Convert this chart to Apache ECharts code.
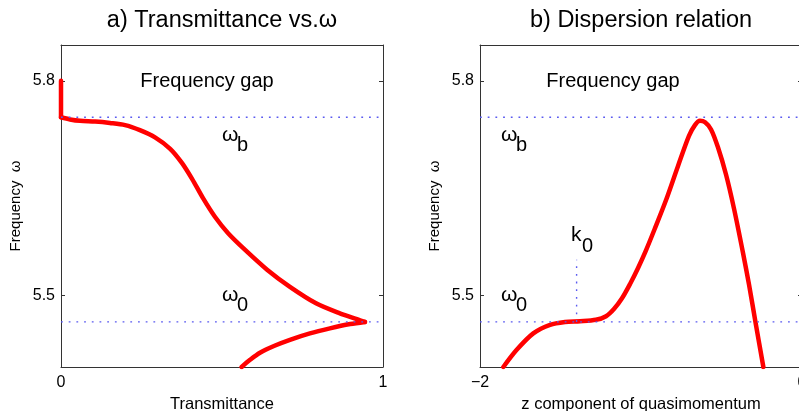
<!DOCTYPE html>
<html><head><meta charset="utf-8">
<script src="https://cdn.jsdelivr.net/npm/echarts@6/dist/echarts.min.js"></script>
<style>html,body{margin:0;padding:0;background:#fff}#c{width:799px;height:411px}</style>
</head><body><div id="c"></div>
<script>
// ---- data ----
const omegaB = 5.749;       // upper band edge
const omega0 = 5.463;       // flat-band frequency
const k0 = -1.40;           // quasimomentum of flat band
const k0MarkTop = 5.55;
const freqTicks = [5.5, 5.8];

// a) transmittance, upper branch (starts with the vertical edge at T = 0)
const transUpperT = [0, 0, 0.028, 0.059, 0.106, 0.152, 0.199, 0.245, 0.292, 0.339, 0.376, 0.407, 0.441, 0.478, 0.519, 0.571, 0.640, 0.711, 0.792, 0.866, 0.919, 0.944];
const transUpperW = [5.8, 5.749, 5.746, 5.744, 5.743, 5.741, 5.738, 5.731, 5.721, 5.705, 5.685, 5.663, 5.636, 5.610, 5.587, 5.564, 5.536, 5.512, 5.489, 5.475, 5.467, 5.463];
// a) transmittance, lower branch
const transLowerT = [0.944, 0.898, 0.835, 0.773, 0.711, 0.665, 0.618, 0.587, 0.561];
const transLowerW = [5.463, 5.460, 5.454, 5.447, 5.438, 5.430, 5.420, 5.410, 5.400];

// b) dispersion relation
const dispK = [-1.855, -1.772, -1.669, -1.565, -1.472, -1.379, -1.280, -1.217, -1.168, -1.118, -1.068, -1.019, -0.969, -0.913, -0.845, -0.770, -0.702, -0.665, -0.634, -0.602, -0.565, -0.522, -0.472, -0.422, -0.366, -0.329, -0.286, -0.240];
const dispW = [5.400, 5.424, 5.447, 5.459, 5.463, 5.464, 5.466, 5.471, 5.481, 5.496, 5.516, 5.538, 5.563, 5.594, 5.633, 5.681, 5.723, 5.738, 5.744, 5.742, 5.732, 5.707, 5.669, 5.621, 5.559, 5.515, 5.459, 5.400];

// ---- helpers ----
const zip = (a, b) => a.map((v, i) => [v, b[i]]);
const FONT = "'Liberation Sans', Arial, Helvetica, sans-serif";
const AXC = '#333333';
const RED = '#ff0000';
const DOT = '#5a5af0';

function xAx(grid, min, max, interval, pos, name) {
  return {
    gridIndex: grid, type: 'value', min: min, max: max, interval: interval, position: pos,
    axisLine: { show: true, onZero: false, lineStyle: { color: AXC, width: 1 } },
    axisTick: { show: true, inside: true, length: 4, lineStyle: { color: AXC } },
    axisLabel: { show: pos === 'bottom', margin: 8, color: '#000', fontSize: 16, fontFamily: FONT,
      formatter: v => String(v).replace('-', '\u2212') },
    splitLine: { show: false },
    name: name || '', nameLocation: 'middle', nameGap: 26,
    nameTextStyle: { color: '#000', fontSize: 16.5, fontFamily: FONT }
  };
}
function yAx(grid, pos, name) {
  return {
    gridIndex: grid, type: 'value', min: 5.4, max: 5.85, position: pos,
    axisLine: { show: true, onZero: false, lineStyle: { color: AXC, width: 1 } },
    axisTick: { show: true, inside: true, length: 4, customValues: freqTicks, lineStyle: { color: AXC } },
    axisLabel: { show: pos === 'left', margin: 6, color: '#000', fontSize: 16, fontFamily: FONT,
      customValues: freqTicks, formatter: v => v.toFixed(1) },
    splitLine: { show: false },
    name: name || '', nameLocation: 'middle', nameGap: 38, nameRotate: 90,
    nameTextStyle: { color: '#000', fontSize: 15, fontFamily: FONT }
  };
}
function redLine(xi, yi, data) {
  return { type: 'line', xAxisIndex: xi, yAxisIndex: yi, data: data, smooth: 0.3,
    showSymbol: false, symbol: 'none', z: 2, silent: true,
    lineStyle: { color: RED, width: 4.5, cap: 'round', join: 'round' } };
}
function dotLine(xi, yi, data) {
  return { type: 'line', xAxisIndex: xi, yAxisIndex: yi, data: data,
    showSymbol: false, symbol: 'none', z: 3, silent: true,
    lineStyle: { color: DOT, width: 1.4, type: [1.8, 5.9] } };
}
function txt(x, y, text, size, align, family) {
  return { type: 'text', x: x, y: y, silent: true,
    style: { text: text, fill: '#000', fontSize: size, fontFamily: family || FONT,
      textAlign: align || 'left', align: align || 'left', textVerticalAlign: 'middle', verticalAlign: 'middle' } };
}
function sub(x, y, main, s) {
  return [txt(x, y, main, 21), txt(x + 15, y + 10, s, 20)];
}

const chart = echarts.init(document.getElementById('c'), null, { renderer: 'canvas' });
chart.setOption({
  animation: false,
  backgroundColor: '#fff',
  grid: [
    { left: 61, top: 45, width: 322, height: 322, containLabel: false, outerBoundsMode: 'none' },
    { left: 480, top: 45, width: 322, height: 322, containLabel: false, outerBoundsMode: 'none' }
  ],
  xAxis: [
    xAx(0, 0, 1, 1, 'bottom', 'Transmittance'),
    xAx(0, 0, 1, 1, 'top'),
    xAx(1, -2, 0, 2, 'bottom', 'z component of quasimomentum'),
    xAx(1, -2, 0, 2, 'top')
  ],
  yAxis: [
    yAx(0, 'left', 'Frequency  \u03c9'),
    yAx(0, 'right'),
    yAx(1, 'left', 'Frequency  \u03c9'),
    yAx(1, 'right')
  ],
  series: [
    redLine(0, 0, zip(transUpperT.slice(0, 2), transUpperW.slice(0, 2))),
    redLine(0, 0, zip(transUpperT.slice(1), transUpperW.slice(1))),
    redLine(0, 0, zip(transLowerT, transLowerW)),
    dotLine(0, 0, [[0, omegaB], [1, omegaB]]),
    dotLine(0, 0, [[0, omega0], [1, omega0]]),
    redLine(2, 2, zip(dispK, dispW)),
    dotLine(2, 2, [[-2, omegaB], [0, omegaB]]),
    dotLine(2, 2, [[-2, omega0], [0, omega0]]),
    dotLine(2, 2, [[k0, omega0], [k0, k0MarkTop]])
  ],
  graphic: [
    txt(222, 21, 'a) Transmittance vs.\u03c9', 23.5, 'center'),
    txt(641, 21, 'b) Dispersion relation', 23.5, 'center'),
    txt(207, 81, 'Frequency gap', 20, 'center'),
    txt(613, 81, 'Frequency gap', 20, 'center'),
    ...sub(222, 135, '\u03c9', 'b'),
    ...sub(222, 295, '\u03c9', '0'),
    ...sub(501, 135, '\u03c9', 'b'),
    ...sub(501, 295, '\u03c9', '0'),
    txt(571, 235, 'k', 21),
    txt(582, 246, '0', 20)
  ]
});
</script>
</body></html>
